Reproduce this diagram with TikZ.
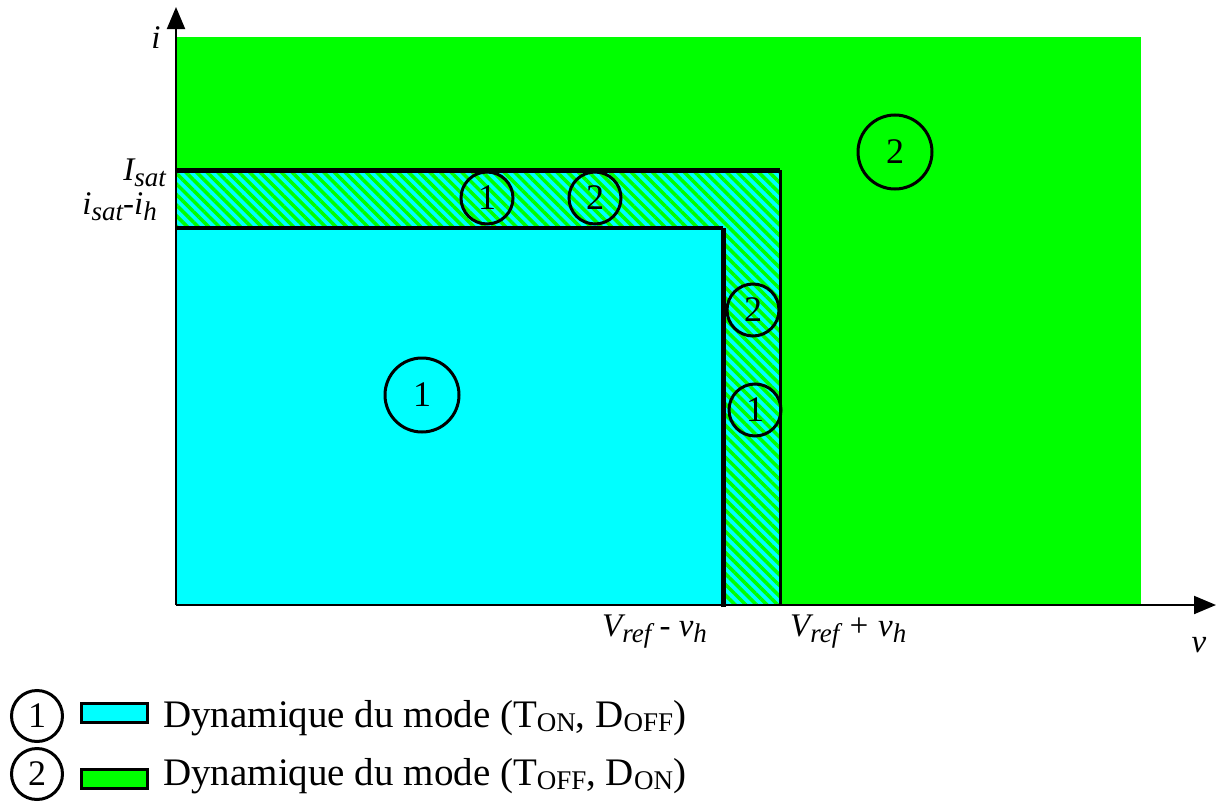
\documentclass[tikz,border=0pt]{standalone}
\usepackage{fontspec}
\setmainfont{Liberation Serif}[ItalicFont={Liberation Serif Italic}]
\usepackage{tikz}
\usetikzlibrary{arrows.meta,patterns.meta}
\definecolor{modeone}{RGB}{0,255,255}
\definecolor{modetwo}{RGB}{0,255,0}
\newcommand{\lsub}[1]{\raisebox{-6pt}{\fontsize{27}{27}\selectfont\itshape #1}}
\newcommand{\ksub}[1]{\raisebox{-4pt}{\fontsize{27}{27}\selectfont #1}}
\begin{document}
\begin{tikzpicture}[x=1pt,y=-1pt,
  axis/.style={line width=2pt, -{Triangle[length=22pt,width=18pt]}},
  num/.style={draw, circle, line width=3pt, inner sep=0pt, minimum size=52pt,
              font=\fontsize{36}{36}\selectfont},
  bignum/.style={num, minimum size=74pt},
  lab/.style={font=\fontsize{33}{33}\selectfont\itshape, inner sep=0pt},
  key/.style={draw, line width=3pt, minimum width=66pt, minimum height=19pt, inner sep=0pt},
  legtext/.style={font=\fontsize{39}{39}\selectfont, inner sep=0pt, anchor=base west}
]
\useasboundingbox (0,0) rectangle (1216,803);
% regions
\fill[modetwo] (176,37) rectangle (1141,605);
\fill[modeone] (176,228) rectangle (723,605);
\fill[modeone] (176,170) -- (780,170) -- (780,605) -- (723,605) -- (723,228) -- (176,228) -- cycle;
\fill[pattern={Lines[angle=-45,distance=7.5pt,line width=3.5pt]}, pattern color=modetwo]
  (176,170) -- (780,170) -- (780,605) -- (723,605) -- (723,228) -- (176,228) -- cycle;
\draw[line width=5pt] (176,170) -- (780,170);
\draw[line width=3pt] (780,170) -- (780,605);
\draw[line width=3.5pt] (176,228) -- (723,228);
\draw[line width=5pt] (723,228) -- (723,607);
% axes
\coordinate (O) at (176,605);
\coordinate (vend) at (1216,605);
\coordinate (iend) at (176,7);
\draw[axis] (O) -- (vend);
\draw[axis] (O) -- (iend);
\node[lab, anchor=base] (ilab) at (156,48) {i};
\node[lab, anchor=base] (vlab) at (1199,652) {v};
\node[lab, anchor=base east] (isat) at (166,180) {I\lsub{sat}};
\node[lab, anchor=base east] (isath) at (157,214) {i\lsub{sat}-i\lsub{h}};
\node[lab, anchor=base west] (vmin) at (602,636) {V\lsub{ref} - v\lsub{h}};
\node[lab, anchor=base west] (vmax) at (790,636) {V\lsub{ref} + v\lsub{h}};
% mode marks
\node[bignum] (one) at (422,395) {1};
\node[bignum] (two) at (895,152) {2};
\node[num] (topone) at (487,198) {1};
\node[num] (toptwo) at (595,198) {2};
\node[num] (sidetwo) at (753,310) {2};
\node[num] (sideone) at (755,410) {1};
% legend
\node[num, minimum size=51pt] (legone) at (37,716) {1};
\node[num, minimum size=51pt] (legtwo) at (37,774) {2};
\node[key, fill=modeone] (keyone) at (114,713) {};
\node[key, fill=modetwo] (keytwo) at (114,779) {};
\node[legtext] (txtone) at (163,727) {Dynamique du mode (T\ksub{ON}, D\ksub{OFF})};
\node[legtext] (txttwo) at (163,785) {Dynamique du mode (T\ksub{OFF}, D\ksub{ON})};
\end{tikzpicture}
\end{document}
